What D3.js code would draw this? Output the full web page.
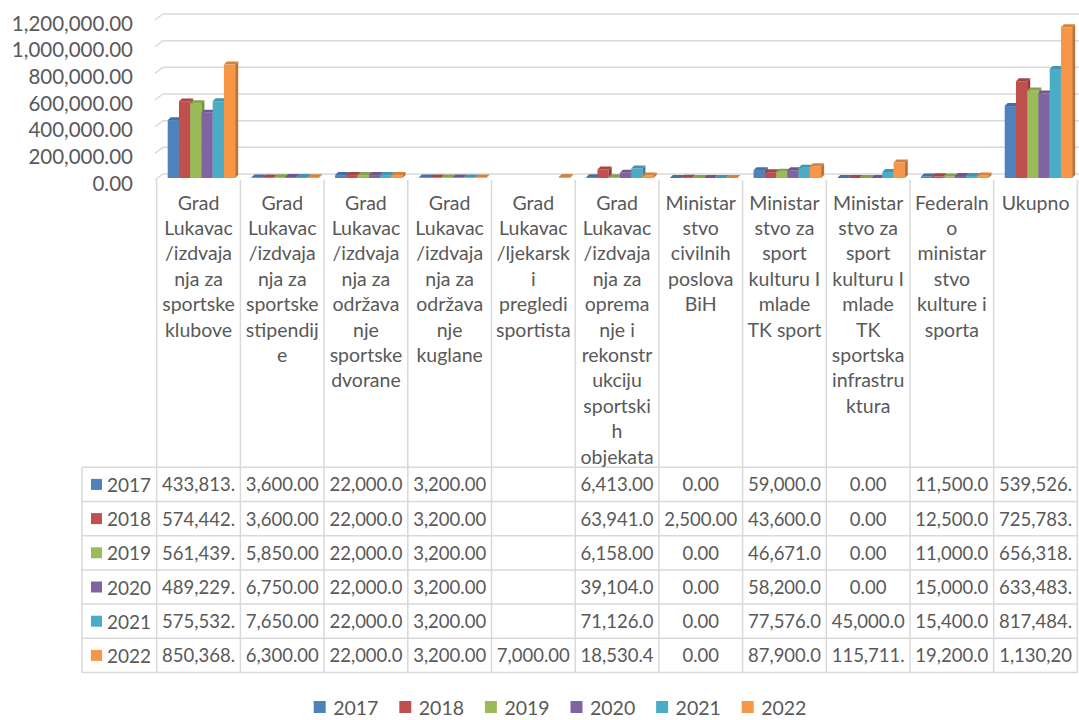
<!DOCTYPE html>
<html>
<head>
<meta charset="utf-8">
<script src="https://cdn.jsdelivr.net/npm/d3@7"></script>
<style>
  html, body { margin: 0; padding: 0; background: #fff; }
  svg { display: block; font-family: Lato, "Open Sans", sans-serif; }
</style>
</head>
<body>
<svg id="chart" width="1079" height="720"></svg>
<script>
// ---------- data ----------
const categories = [
  "Grad\nLukavac\n/izdvaja\nnja za\nsportske\nklubove",
  "Grad\nLukavac\n/izdvaja\nnja za\nsportske\nstipendij\ne",
  "Grad\nLukavac\n/izdvaja\nnja za\nodržava\nnje\nsportske\ndvorane",
  "Grad\nLukavac\n/izdvaja\nnja za\nodržava\nnje\nkuglane",
  "Grad\nLukavac\n/ljekarsk\ni\npregledi\nsportista",
  "Grad\nLukavac\n/izdvaja\nnja za\noprema\nnje i\nrekonstr\nukciju\nsportski\nh\nobjekata",
  "Ministar\nstvo\ncivilnih\nposlova\nBiH",
  "Ministar\nstvo za\nsport\nkulturu I\nmlade\nTK sport",
  "Ministar\nstvo za\nsport\nkulturu I\nmlade\nTK\nsportska\ninfrastru\nktura",
  "Federaln\no\nministar\nstvo\nkulture i\nsporta",
  "Ukupno"
];
const seriesNames = ["2017", "2018", "2019", "2020", "2021", "2022"];
const seriesColors = ["#4F81BD", "#C0504D", "#9BBB59", "#8064A2", "#4BACC6", "#F79646"];
const values2017 = [433813, 3600, 22000, 3200, null, 6413, 0, 59000, 0, 11500, 539526];
const values2018 = [574442, 3600, 22000, 3200, null, 63941, 2500, 43600, 0, 12500, 725783];
const values2019 = [561439, 5850, 22000, 3200, null, 6158, 0, 46671, 0, 11000, 656318];
const values2020 = [489229, 6750, 22000, 3200, null, 39104, 0, 58200, 0, 15000, 633483];
const values2021 = [575532, 7650, 22000, 3200, null, 71126, 0, 77576, 45000, 15400, 817484];
const values2022 = [850368, 6300, 22000, 3200, 7000, 18530.4, 0, 87900, 115711, 19200, 1130209.4];
const seriesValues = [values2017, values2018, values2019, values2020, values2021, values2022];
const yTicks = [0, 200000, 400000, 600000, 800000, 1000000, 1200000];

// ---------- layout ----------
const svg = d3.select("#chart");
const W = 1079;
const textColor = "#595959";
const lineColor = "#d9d9d9";
const tableLeft = 82, colStart = 156.7, colEnd = 1077.4;
const headerTop = 180, headerBottom = 467.3, rowH = 34.2;
const depth = 3;

const y = d3.scaleLinear().domain([0, 1200000]).range([174, 14]);
const barBase = 178;
const yBar = v => y(v) + (barBase - y(0));

const x = d3.scaleBand().domain(d3.range(categories.length)).range([colStart, colEnd]).padding(0);
const xs = d3.scaleBand().domain(d3.range(seriesNames.length)).range([11, 78.5]).padding(0);

// ---------- gridlines & y axis ----------
const grid = svg.append("g");
yTicks.forEach(t => {
  const yy = y(t);
  grid.append("path")
    .attr("d", `M155,${yy + 6}L163,${yy}L${W},${yy}`)
    .attr("fill", "none").attr("stroke", lineColor).attr("stroke-width", 1.5);
});
const fmt = d3.format(",.2f");
svg.append("g").selectAll("text").data(yTicks).join("text")
  .attr("x", 133).attr("y", d => y(d) + 8.5)
  .attr("text-anchor", "end").attr("dominant-baseline", "central")
  .attr("font-size", 20.5).attr("fill", textColor)
  .text(d => fmt(d));

// ---------- bars (pseudo 3D) ----------
const bars = svg.append("g");
categories.forEach((c, i) => {
  seriesValues.forEach((vals, s) => {
    const v = vals[i];
    if (v === null || v === undefined) return;
    const col = d3.color(seriesColors[s]);
    const x0 = x(i) + xs(s), w = xs.bandwidth();
    const yt = yBar(v), yb = barBase;
    if (yb - yt > 0.01) {
      bars.append("rect").attr("x", x0).attr("y", yt).attr("width", w).attr("height", yb - yt)
        .attr("fill", col.formatHex());
    }
    bars.append("path")
      .attr("d", `M${x0 + w},${yt}L${x0 + w + depth},${yt - depth}L${x0 + w + depth},${yb - depth}L${x0 + w},${yb}Z`)
      .attr("fill", col.darker(0.75).formatHex());
    bars.append("path")
      .attr("d", `M${x0},${yt}L${x0 + w},${yt}L${x0 + w + depth},${yt - depth}L${x0 + depth},${yt - depth}Z`)
      .attr("fill", col.darker(0.4).formatHex());
  });
});

// ---------- data table ----------
const table = svg.append("g");
const tableBottom = headerBottom + rowH * seriesNames.length;
d3.range(categories.length + 1).forEach(k => {
  const xx = colStart + k * x.bandwidth();
  table.append("line").attr("x1", xx).attr("x2", xx).attr("y1", headerTop).attr("y2", tableBottom)
    .attr("stroke", lineColor).attr("stroke-width", 1.5);
});
table.append("line").attr("x1", tableLeft).attr("x2", tableLeft).attr("y1", headerBottom).attr("y2", tableBottom)
  .attr("stroke", lineColor).attr("stroke-width", 1.5);
d3.range(seriesNames.length + 1).forEach(r => {
  const yy = headerBottom + r * rowH;
  table.append("line").attr("x1", tableLeft).attr("x2", colEnd).attr("y1", yy).attr("y2", yy)
    .attr("stroke", lineColor).attr("stroke-width", 1.5);
});

// header labels
categories.forEach((c, i) => {
  const lines = c.split("\n");
  const t = table.append("text").attr("text-anchor", "middle").attr("font-size", 19.5).attr("fill", textColor);
  lines.forEach((ln, k) => {
    t.append("tspan").attr("x", x(i) + x.bandwidth() / 2).attr("y", 202 + k * 25.4)
      .attr("dominant-baseline", "central").text(ln);
  });
});

// row labels with swatches
seriesNames.forEach((n, s) => {
  const cy = headerBottom + s * rowH + rowH / 2;
  table.append("rect").attr("x", 91).attr("y", cy - 5.5).attr("width", 11).attr("height", 11)
    .attr("fill", seriesColors[s]);
  table.append("text").attr("x", 107).attr("y", cy).attr("dominant-baseline", "central")
    .attr("font-size", 19).attr("fill", textColor).text(n);
});

// cells, truncated to fit the cell width like the spreadsheet does
const maxW = x.bandwidth() - 6;
seriesValues.forEach((vals, s) => {
  const cy = headerBottom + s * rowH + rowH / 2;
  vals.forEach((v, i) => {
    if (v === null || v === undefined) return;
    const t = table.append("text").attr("x", x(i) + x.bandwidth() / 2).attr("y", cy)
      .attr("text-anchor", "middle").attr("dominant-baseline", "central")
      .attr("font-size", 18.5).attr("fill", textColor);
    let str = fmt(v);
    t.text(str);
    while (str.length > 1 && t.node().getComputedTextLength() > maxW) {
      str = str.slice(0, -1);
      t.text(str);
    }
  });
});

// ---------- legend ----------
const legend = svg.append("g");
seriesNames.forEach((n, s) => {
  const lx = 313.7 + s * 85.6, cy = 707;
  legend.append("rect").attr("x", lx).attr("y", cy - 6).attr("width", 12).attr("height", 12)
    .attr("fill", seriesColors[s]);
  legend.append("text").attr("x", lx + 19.5).attr("y", cy).attr("dominant-baseline", "central")
    .attr("font-size", 19.5).attr("fill", textColor).text(n);
});
</script>
</body>
</html>
